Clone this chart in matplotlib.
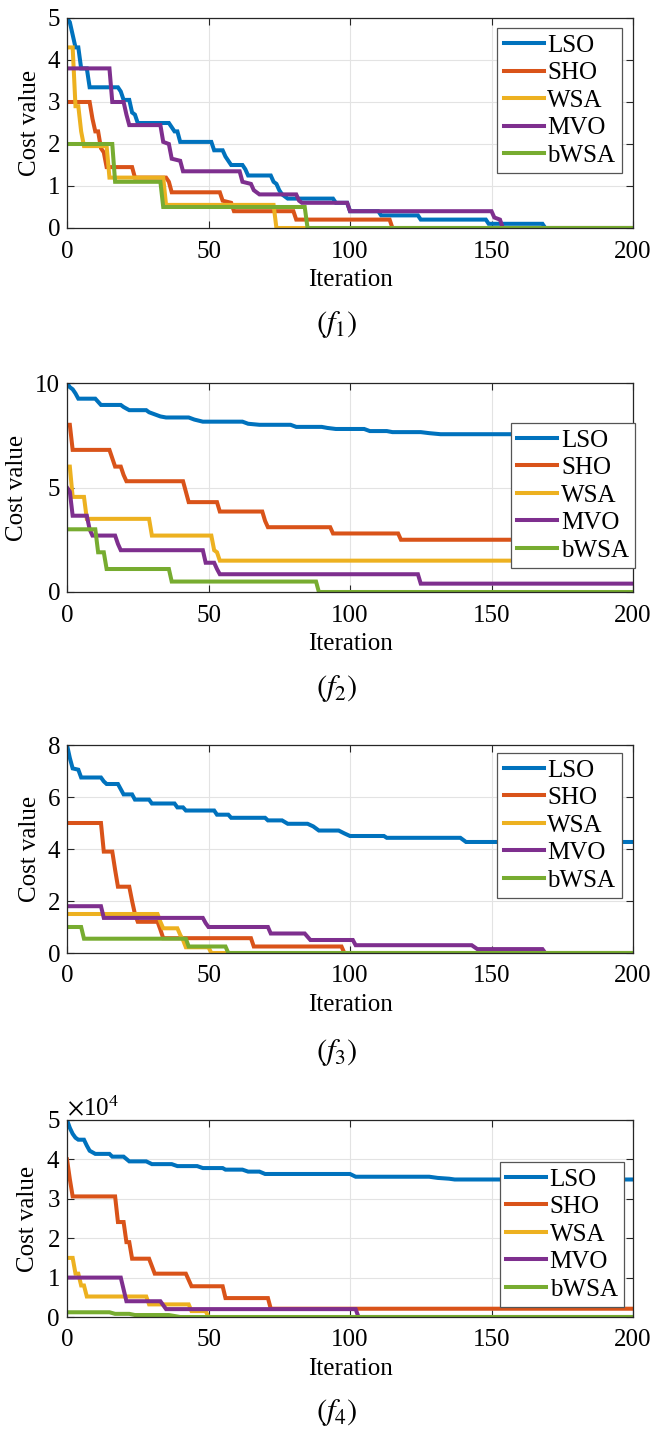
import matplotlib
matplotlib.use("Agg")
import matplotlib.pyplot as plt
from matplotlib.ticker import ScalarFormatter

plt.rcParams['font.family'] = ['Liberation Serif', 'DejaVu Serif']
plt.rcParams['font.size'] = 18
plt.rcParams['mathtext.fontset'] = 'stix'

names = ['LSO', 'SHO', 'WSA', 'MVO', 'bWSA']
colors = ['#0072BD', '#D95319', '#EDB120', '#7E2F8E', '#77AC30']

# ---- (f1) ----
f1_LSO = [(0, 5.0), (1, 4.9), (3, 4.3), (4, 4.3), (5, 3.8), (7, 3.8), (8, 3.35), (18, 3.35), (19, 3.25),
          (20, 3.05), (22, 3.05), (23, 2.75), (24, 2.7), (25, 2.5), (36, 2.5), (37, 2.4), (38, 2.3), (39, 2.3),
          (40, 2.05), (51, 2.05), (52, 1.85), (55, 1.85), (56, 1.7), (57, 1.6), (58, 1.5), (62, 1.5), (63, 1.4),
          (64, 1.25), (72, 1.25), (73, 1.1), (74, 1.05), (75, 0.9), (76, 0.8), (77, 0.75), (78, 0.7), (94, 0.7),
          (95, 0.6), (99, 0.6), (100, 0.4), (110, 0.4), (111, 0.3), (124, 0.3), (125, 0.2), (148, 0.2),
          (149, 0.1), (168, 0.1), (169, 0), (200, 0)]
f1_SHO = [(0, 3.0), (8, 3.0), (9, 2.6), (10, 2.3), (11, 2.3), (12, 1.9), (13, 1.8), (14, 1.45), (23, 1.45),
          (24, 1.2), (35, 1.2), (36, 1.1), (37, 0.85), (54, 0.85), (55, 0.65), (58, 0.6), (59, 0.4), (80, 0.4),
          (81, 0.2), (114, 0.2), (115, 0), (200, 0)]
f1_WSA = [(0, 4.3), (2, 4.3), (3, 2.9), (4, 2.9), (5, 2.3), (6, 1.95), (14, 1.95), (15, 1.2), (34, 1.2),
          (35, 0.55), (73, 0.55), (74, 0), (200, 0)]
f1_MVO = [(0, 3.8), (15, 3.8), (16, 3.0), (20, 3.0), (21, 2.7), (22, 2.45), (33, 2.45), (34, 2.05), (36, 2.0),
          (37, 1.65), (40, 1.6), (41, 1.35), (61, 1.35), (62, 1.1), (65, 1.05), (66, 0.9), (68, 0.8), (81, 0.8),
          (82, 0.65), (83, 0.6), (99, 0.6), (100, 0.4), (150, 0.4), (151, 0.25), (153, 0.2), (154, 0), (200, 0)]
f1_bWSA = [(0, 2.0), (16, 2.0), (17, 1.1), (33, 1.1), (34, 0.5), (84, 0.5), (85, 0), (200, 0)]

# ---- (f2) ----
f2_LSO = [(0, 10), (1, 9.8), (2, 9.7), (3, 9.5), (4, 9.25), (10, 9.25), (11, 9.1), (12, 8.95), (19, 8.95),
          (20, 8.85), (22, 8.7), (28, 8.7), (29, 8.6), (31, 8.5), (33, 8.4), (35, 8.35), (43, 8.35), (45, 8.25),
          (48, 8.15), (62, 8.15), (64, 8.05), (68, 8.0), (79, 8.0), (81, 7.9), (90, 7.9), (92, 7.85), (95, 7.8),
          (105, 7.8), (107, 7.7), (113, 7.7), (115, 7.65), (125, 7.65), (128, 7.6), (132, 7.55), (200, 7.55)]
f2_SHO = [(0, 8.0), (1, 8.0), (2, 6.8), (15, 6.8), (16, 6.4), (17, 6.0), (19, 6.0), (20, 5.6), (21, 5.3),
          (41, 5.3), (42, 4.8), (43, 4.3), (53, 4.3), (54, 3.85), (69, 3.85), (70, 3.4), (71, 3.1), (93, 3.1),
          (94, 2.8), (117, 2.8), (118, 2.5), (200, 2.5)]
f2_WSA = [(0, 6.0), (1, 6.0), (2, 4.55), (6, 4.55), (7, 3.5), (29, 3.5), (30, 2.7), (51, 2.7), (52, 2.0),
          (53, 1.9), (54, 1.5), (200, 1.5)]
f2_MVO = [(0, 5.0), (1, 4.8), (2, 3.65), (7, 3.65), (8, 3.0), (9, 2.7), (17, 2.7), (18, 2.3), (19, 2.0),
          (48, 2.0), (49, 1.4), (52, 1.4), (53, 1.1), (54, 0.85), (124, 0.85), (125, 0.4), (200, 0.4)]
f2_bWSA = [(0, 3.0), (10, 3.0), (11, 1.9), (13, 1.9), (14, 1.1), (36, 1.1), (37, 0.5), (88, 0.5), (89, 0),
           (200, 0)]

# ---- (f3) ----
f3_LSO = [(0, 8.0), (1, 7.5), (2, 7.1), (4, 7.05), (5, 6.75), (12, 6.75), (13, 6.6), (14, 6.5), (18, 6.5),
          (19, 6.3), (20, 6.1), (23, 6.1), (24, 5.9), (29, 5.9), (30, 5.75), (38, 5.75), (39, 5.6), (41, 5.6),
          (42, 5.48), (52, 5.48), (53, 5.32), (57, 5.32), (58, 5.2), (70, 5.2), (71, 5.1), (76, 5.1), (78, 4.97),
          (85, 4.97), (87, 4.87), (89, 4.71), (96, 4.71), (98, 4.6), (100, 4.5), (112, 4.5), (113, 4.43),
          (139, 4.43), (141, 4.27), (200, 4.27)]
f3_SHO = [(0, 5.0), (12, 5.0), (13, 3.9), (16, 3.9), (17, 3.2), (18, 2.55), (22, 2.55), (23, 2.0), (24, 1.5),
          (25, 1.2), (32, 1.2), (33, 0.9), (34, 0.57), (65, 0.57), (66, 0.25), (97, 0.25), (98, 0), (200, 0)]
f3_WSA = [(0, 1.5), (32, 1.5), (33, 1.2), (34, 0.95), (39, 0.95), (40, 0.7), (41, 0.5), (42, 0.22), (50, 0.22),
          (51, 0), (200, 0)]
f3_MVO = [(0, 1.8), (12, 1.8), (13, 1.35), (48, 1.35), (49, 1.15), (50, 1.0), (71, 1.0), (72, 0.75), (84, 0.75),
          (86, 0.5), (101, 0.5), (102, 0.3), (143, 0.3), (145, 0.15), (168, 0.15), (169, 0), (200, 0)]
f3_bWSA = [(0, 1.0), (5, 1.0), (6, 0.55), (42, 0.55), (43, 0.25), (56, 0.25), (57, 0), (200, 0)]

# ---- (f4) ----
f4_LSO = [(0, 50000), (1, 48000), (2, 46500), (3, 45500), (4, 45000), (6, 45000), (7, 43500), (8, 42200),
          (10, 41400), (15, 41400), (16, 40700), (20, 40700), (22, 39500), (28, 39500), (30, 38800), (37, 38800),
          (39, 38300), (46, 38300), (48, 37800), (55, 37800), (56, 37400), (62, 37400), (64, 36900), (68, 36900),
          (70, 36300), (100, 36300), (102, 35600), (128, 35600), (131, 35300), (135, 35100), (137, 34900),
          (200, 34900)]
f4_SHO = [(0, 40000), (1, 35000), (2, 30600), (17, 30600), (18, 24100), (20, 24100), (21, 19000), (22, 19000),
          (23, 14800), (29, 14800), (31, 11000), (42, 11000), (44, 7800), (55, 7800), (56, 4800), (71, 4800),
          (72, 2100), (200, 2100)]
f4_WSA = [(0, 15000), (2, 15000), (3, 11000), (4, 11000), (5, 8000), (6, 8000), (7, 5200), (28, 5200),
          (29, 3200), (43, 3200), (44, 1500), (49, 1500), (50, 0), (200, 0)]
f4_MVO = [(0, 10000), (19, 10000), (21, 4000), (33, 4000), (35, 2000), (102, 2000), (103, 0), (200, 0)]
f4_bWSA = [(0, 1200), (15, 1200), (17, 800), (22, 800), (24, 500), (36, 500), (40, 0), (200, 0)]

panels = [
    ([f1_LSO, f1_SHO, f1_WSA, f1_MVO, f1_bWSA], 5, [0, 1, 2, 3, 4, 5], r'$(f_1)$'),
    ([f2_LSO, f2_SHO, f2_WSA, f2_MVO, f2_bWSA], 10, [0, 5, 10], r'$(f_2)$'),
    ([f3_LSO, f3_SHO, f3_WSA, f3_MVO, f3_bWSA], 8, [0, 2, 4, 6, 8], r'$(f_3)$'),
    ([f4_LSO, f4_SHO, f4_WSA, f4_MVO, f4_bWSA], 50000, [0, 10000, 20000, 30000, 40000, 50000], r'$(f_4)$'),
]

W, H = 651, 1431
# axes boxes in pixels: left, right, top, bottom
boxes = [(67, 633, 18, 228), (67, 633, 383, 592), (67, 633, 745, 953), (67, 633, 1120, 1317)]
legend_anchor = [(0.98, 0.952), (1.004, 0.809), (0.98, 0.962), (0.984, 0.787)]
caption_y = [325, 688, 1052, 1412]

fig = plt.figure(figsize=(W / 100, H / 100), dpi=100)
grey = '#262626'

for k, (series, ymax, yticks, cap) in enumerate(panels):
    l, r, t, b = boxes[k]
    ax = fig.add_axes([l / W, 1 - b / H, (r - l) / W, (b - t) / H])
    for pts, name, c in zip(series, names, colors):
        xs = [p[0] for p in pts]
        ys = [p[1] for p in pts]
        ax.plot(xs, ys, color=c, lw=2.9, label=name, solid_joinstyle='miter')
    ax.set_xlim(0, 200)
    ax.set_ylim(0, ymax)
    ax.set_xticks([0, 50, 100, 150, 200])
    ax.set_yticks(yticks)
    ax.grid(True, color='#e3e3e3', lw=0.8)
    ax.set_axisbelow(True)
    ax.tick_params(direction='in', top=True, right=True, length=5, width=0.8, colors=grey,
                   labelcolor='black')
    ax.tick_params(axis='x', pad=9)
    ax.tick_params(axis='y', pad=5)
    for s in ax.spines.values():
        s.set_color(grey)
        s.set_linewidth(0.9)
    ax.set_xlabel('Iteration', labelpad=5)
    ax.set_ylabel('Cost value', labelpad=5)
    if k == 3:
        fmt = ScalarFormatter(useMathText=True)
        fmt.set_powerlimits((0, 0))
        ax.yaxis.set_major_formatter(fmt)
        ax.yaxis.get_offset_text().set_fontsize(18)
    leg = ax.legend(loc='upper right', bbox_to_anchor=legend_anchor[k], borderaxespad=0,
                    fancybox=False, edgecolor='#555555', framealpha=1, handlelength=1.6,
                    handletextpad=0.15, labelspacing=0.2, borderpad=0.25)
    leg.get_frame().set_linewidth(0.9)
    fig.text(337 / W, 1 - caption_y[k] / H, cap, ha='center', va='center', fontsize=22)

fig.savefig('out.png', dpi=100)
